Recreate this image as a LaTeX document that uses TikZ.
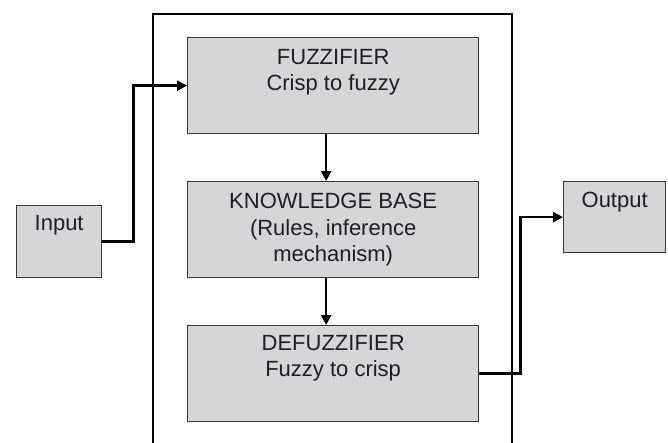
\documentclass[tikz,border=0pt]{standalone}
\usepackage{fontspec}
\setmainfont{Liberation Sans}
\usetikzlibrary{arrows.meta}
\definecolor{boxfill}{RGB}{214,214,214}
\definecolor{boxline}{RGB}{55,55,55}
\definecolor{txt}{RGB}{30,30,40}
\begin{document}
\begin{tikzpicture}[x=1pt,y=-1pt,
  blk/.style={draw=boxline, line width=1.3pt, fill=boxfill, inner sep=0pt, anchor=north west},
  lbl/.style={anchor=north, align=center, font=\fontsize{22}{26.5}\selectfont, text=txt, inner sep=0pt},
  conn/.style={line width=2.6pt, -{Triangle[length=10pt,width=10pt]}},
  frame/.style={line width=2pt}]
\useasboundingbox (0,0) rectangle (668,442);
\clip (0,0) rectangle (668,442);
\fill[white] (0,0) rectangle (668,442);
\draw[frame] (153,446) -- (153,14) -- (512,14) -- (512,446);
\node[blk, minimum width=291pt, minimum height=96pt] (fz) at (187,37) {};
\node[blk, minimum width=291pt, minimum height=96pt] (kb) at (187,181) {};
\node[blk, minimum width=291pt, minimum height=96pt] (df) at (187,325) {};
\node[blk, minimum width=85pt, minimum height=72pt] (in) at (16,205) {};
\node[blk, minimum width=102pt, minimum height=71pt] (out) at (563,181) {};
\node[lbl] (fzt) at ([yshift=-12pt]fz.north) {FUZZIFIER\\Crisp to fuzzy};
\node[lbl] (kbt) at ([yshift=-12pt]kb.north) {KNOWLEDGE BASE\\(Rules, inference\\mechanism)};
\node[lbl] (dft) at ([yshift=-10pt]df.north) {DEFUZZIFIER\\Fuzzy to crisp};
\node[lbl] (int) at ([yshift=-10pt]in.north) {Input};
\node[lbl] (outt) at ([yshift=-11pt]out.north) {Output};
\draw[conn] (in.east) -- ++(31,0) |- (fz.west);
\draw[conn] ([xshift=-7pt]fz.south) -- ([xshift=-7pt]kb.north);
\draw[conn] ([xshift=-7pt]kb.south) -- ([xshift=-7pt]df.north);
\draw[conn] (df.east) -- ++(41,0) |- (out.west);
\end{tikzpicture}
\end{document}
